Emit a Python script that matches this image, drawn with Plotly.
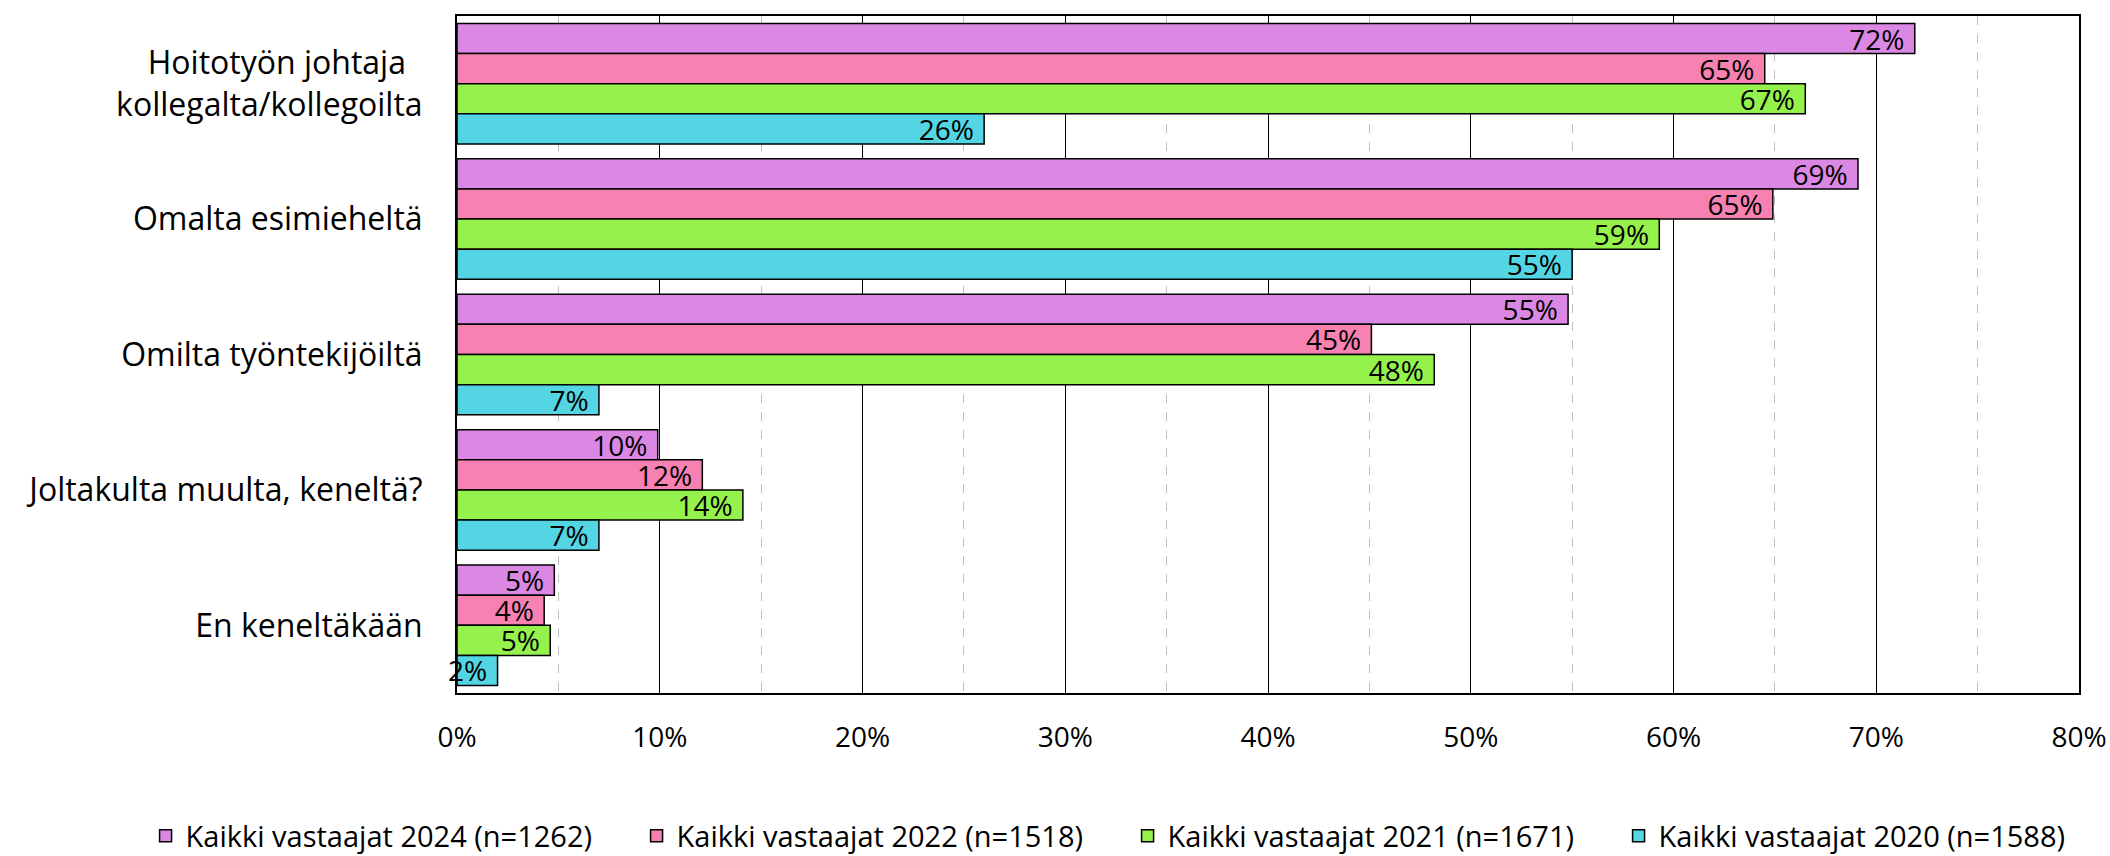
import plotly.graph_objects as go

# Categories (top to bottom) and series values in percent
categories = [
    "Hoitotyön johtaja\u00a0\u00a0<br>kollegalta/kollegoilta",
    "Omalta esimieheltä",
    "Omilta työntekijöiltä",
    "Joltakulta muulta, keneltä?",
    "En keneltäkään",
]
series_names = [
    "Kaikki vastaajat 2024 (n=1262)",
    "Kaikki vastaajat 2022 (n=1518)",
    "Kaikki vastaajat 2021 (n=1671)",
    "Kaikki vastaajat 2020 (n=1588)",
]
values_2024 = [71.9, 69.1, 54.8, 9.9, 4.8]
values_2022 = [64.5, 64.9, 45.1, 12.1, 4.3]
values_2021 = [66.5, 59.3, 48.2, 14.1, 4.6]
values_2020 = [26.0, 55.0, 7.0, 7.0, 2.0]
x_ticks = [0, 10, 20, 30, 40, 50, 60, 70, 80]

COLORS = ["#DA88E4", "#F781B1", "#95F14B", "#53D5E3"]
FONT = "Open Sans, sans-serif"

fig = go.Figure()
for name, vals, color in zip(series_names, [values_2024, values_2022, values_2021, values_2020], COLORS):
    fig.add_trace(go.Bar(
        y=categories,
        x=vals,
        name=name,
        orientation="h",
        marker=dict(color=color, line=dict(color="#000000", width=1.5)),
        texttemplate="%{x:.0f}%\u00a0",
        textposition="inside",
        insidetextanchor="end",
        textfont=dict(size=28, color="#000000", family=FONT),
        constraintext="none",
        cliponaxis=False,
    ))

fig.update_layout(
    barmode="group",
    bargap=0.11,
    bargroupgap=0,
    width=2110,
    height=856,
    paper_bgcolor="white",
    plot_bgcolor="white",
    font=dict(family=FONT, color="#000000"),
    margin=dict(l=457, r=31, t=16, b=163, autoexpand=False),
    uniformtext=dict(minsize=28, mode="show"),
    legend=dict(
        orientation="h",
        x=-0.192, xanchor="left",
        y=-0.211, yanchor="middle",
        font=dict(size=29, family=FONT),
        entrywidth=446,
        traceorder="normal",
        itemwidth=30,
    ),
)
fig.update_xaxes(
    range=[0, 80],
    tickvals=x_ticks,
    ticktext=[f"{t}%" for t in x_ticks],
    tickfont=dict(size=28),
    ticklabeloverflow="allow",
    showgrid=True,
    gridcolor="#000000",
    gridwidth=1,
    minor=dict(dtick=5, showgrid=True, gridcolor="#BFBFBF", griddash="dash", gridwidth=1),
    showline=True,
    linecolor="#000000",
    linewidth=2,
    mirror=True,
    zeroline=False,
    ticks="",
    ticklabelstandoff=18,
)
fig.update_yaxes(
    autorange=False,
    range=[4.5, -0.5],
    tickfont=dict(size=32),
    showline=True,
    linecolor="#000000",
    linewidth=2,
    mirror=True,
    showgrid=False,
    ticks="",
    ticklabelstandoff=26,
)

# drop the default page margin so the figure fills the window exactly
fig.write_html(
    "out.html",
    config={"displayModeBar": False},
    post_script="document.body.style.margin='0';",
)
